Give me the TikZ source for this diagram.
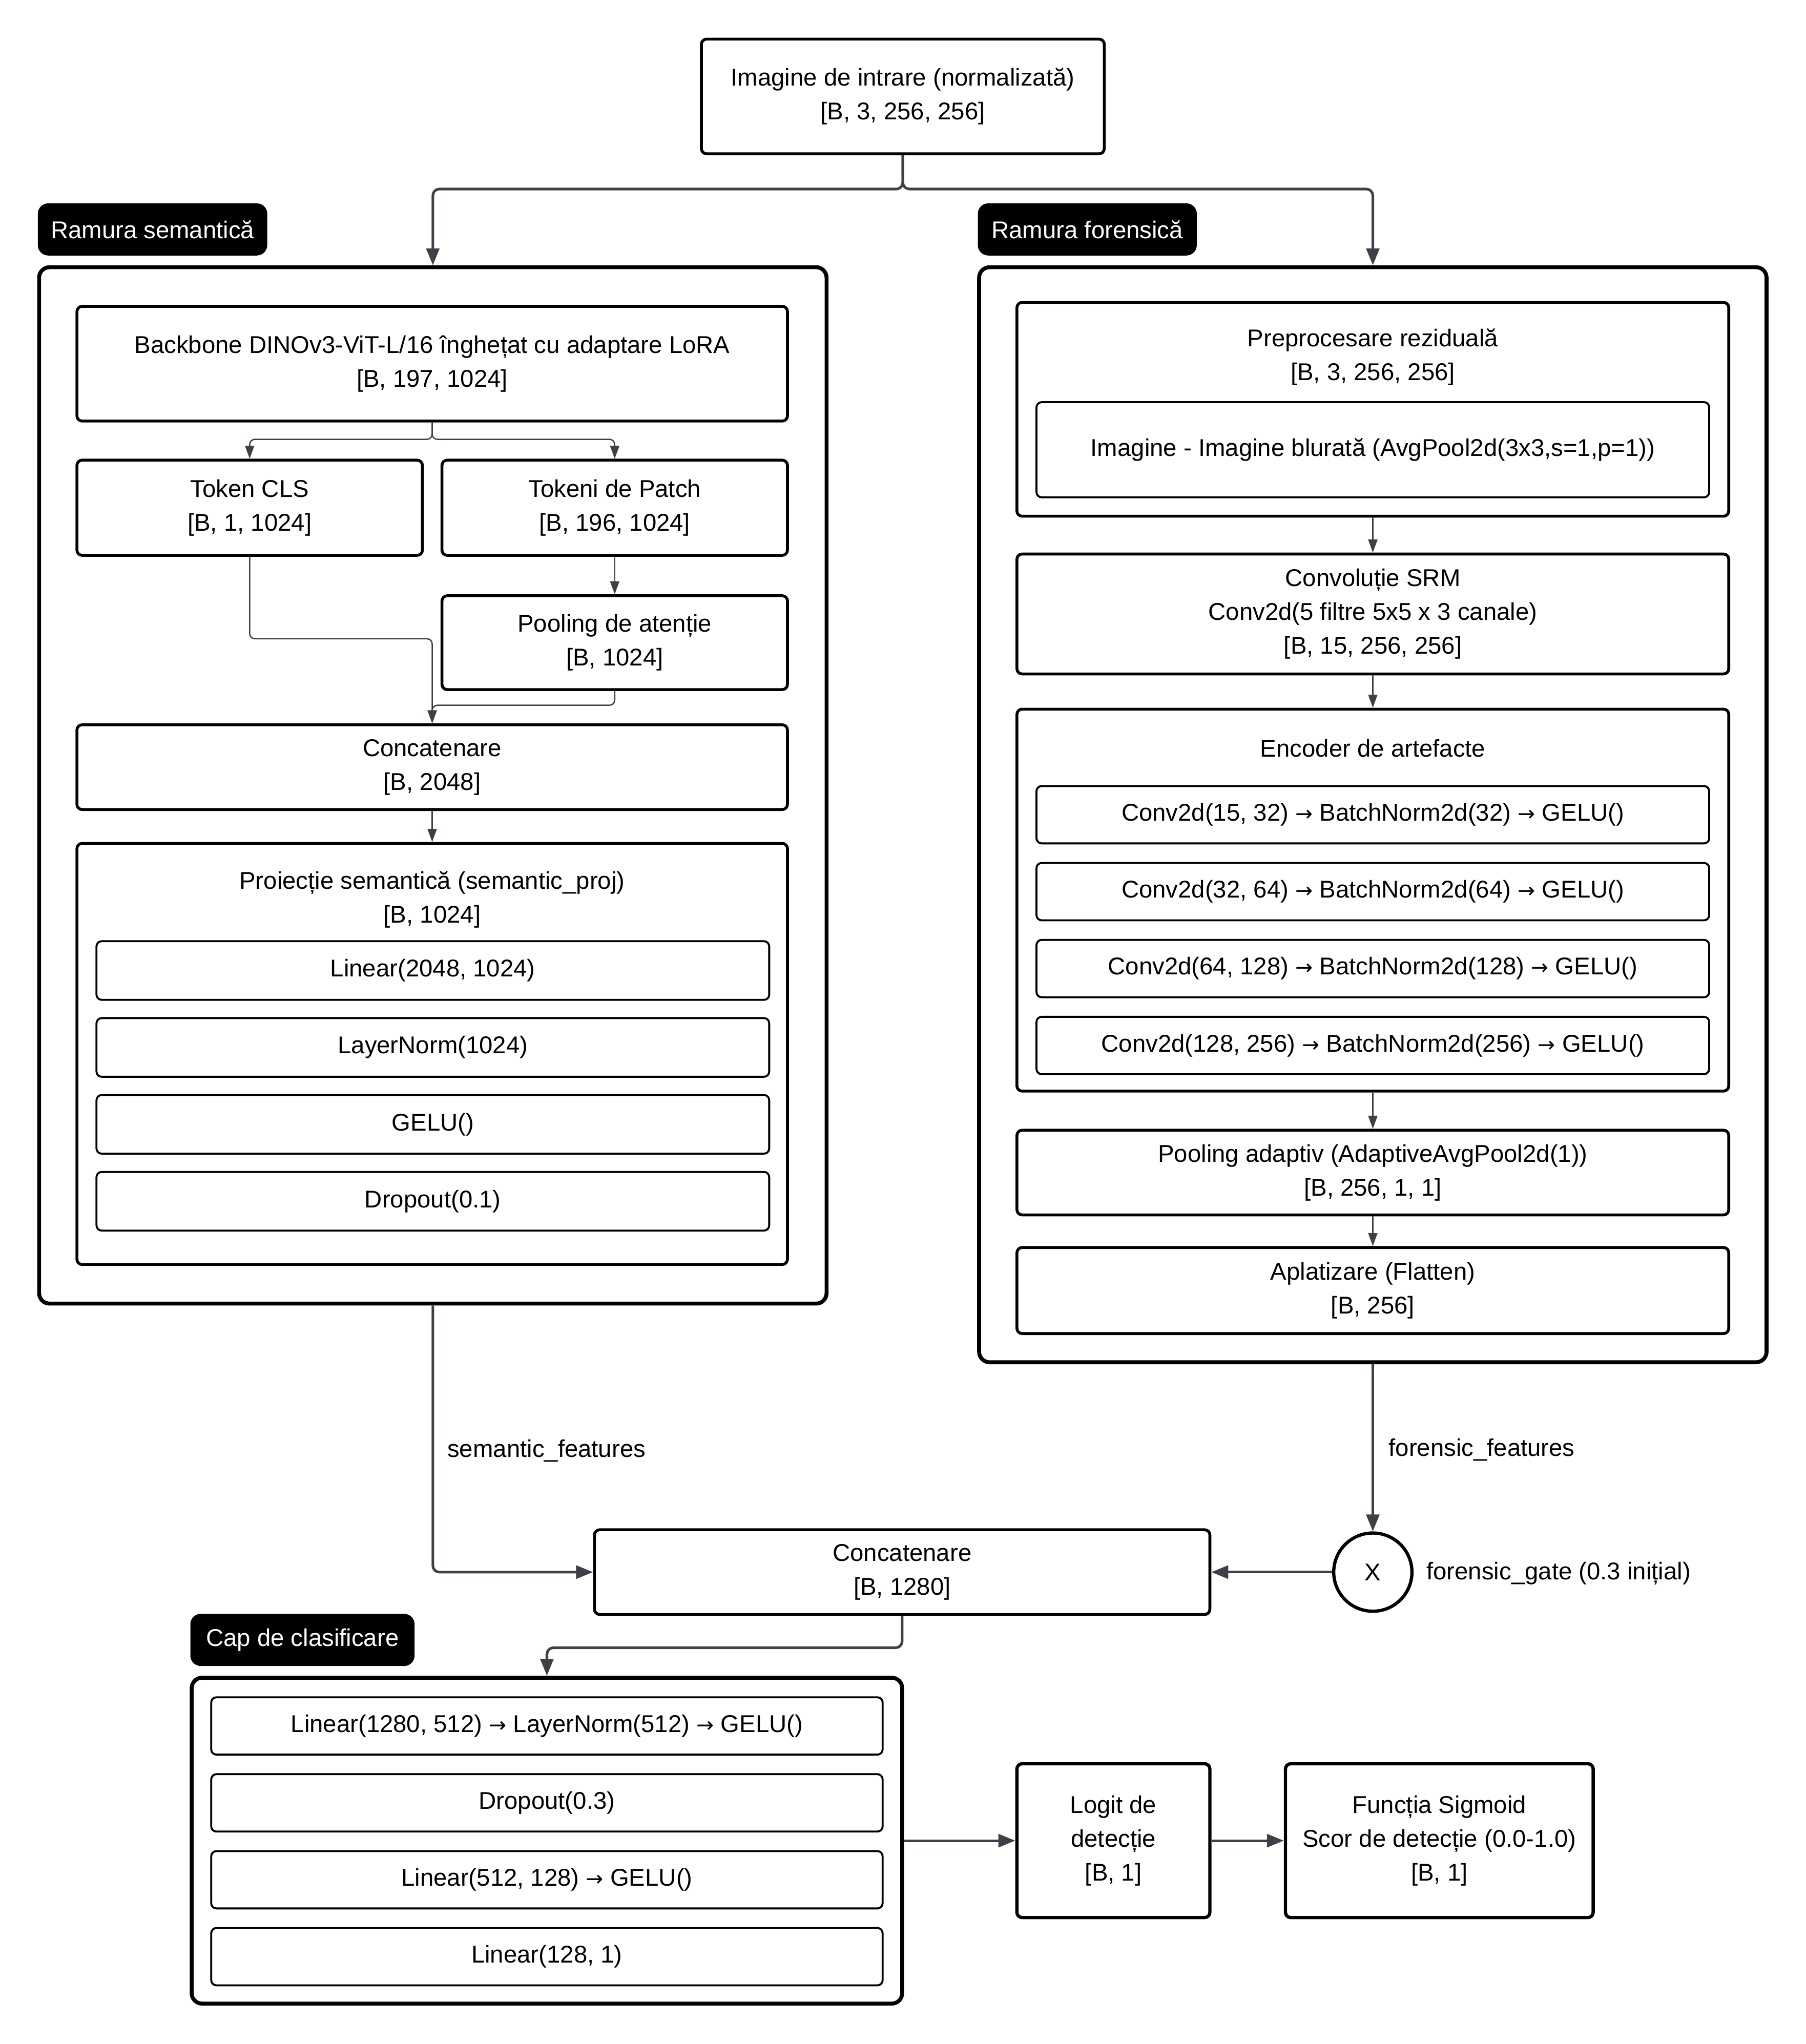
\documentclass[tikz,border=0pt]{standalone}
\usepackage{fontspec}
\setmainfont{Liberation Sans}
\newfontfamily\arrowfont{DejaVu Sans}
\newcommand{\rarr}{{\arrowfont\fontsize{16}{26}\selectfont →}}
\usetikzlibrary{arrows.meta,calc}
\definecolor{connc}{HTML}{3D4047}
\begin{document}
\begin{tikzpicture}[x=1pt,y=-1pt,
  font=\fontsize{18.6}{26}\selectfont,
  wh/.style 2 args={minimum width=#1pt, minimum height=#2pt},
  box/.style={draw=black, line width=2.2pt, rounded corners=4pt, align=center, inner sep=0pt, fill=white},
  container/.style={draw=black, line width=3pt, rounded corners=8pt, inner sep=0pt},
  inbox/.style={draw=black, line width=1.5pt, rounded corners=4pt, align=center, inner sep=0pt, fill=white},
  tagbox/.style={fill=black, text=white, rounded corners=8pt, inner sep=0pt},
  ttl/.style={align=center, inner sep=0pt},
  lbl/.style={anchor=west, inner sep=0pt},
  conn/.style={draw=connc, line width=2pt, -{Triangle[length=13pt,width=10pt]}, rounded corners=5pt},
  thinconn/.style={draw=connc, line width=1pt, -{Triangle[length=10pt,width=7pt]}, rounded corners=4pt}
]
\fill[white] (0,0) rectangle (1385,1568);
\useasboundingbox (0,0) rectangle (1385,1568);

% input
\node[box, wh={309}{88}] (in) at (692.5,74) {Imagine de intrare (normalizată)\\{}[B, 3, 256, 256]};

% ---------------- semantic branch
\node[tagbox, wh={176}{40}] (semtag) at (117,176) {Ramura semantică};
\node[container, wh={604}{795}] (semc) at (332,602.5) {};
\node[box, wh={545}{88}] (backbone) at (331.5,279) {Backbone DINOv3-ViT-L/16 înghețat cu adaptare LoRA\\{}[B, 197, 1024]};
\node[box, wh={265}{73}] (cls) at (191.5,389.5) {Token CLS\\{}[B, 1, 1024]};
\node[box, wh={265}{73}] (patch) at (471.5,389.5) {Tokeni de Patch\\{}[B, 196, 1024]};
\node[box, wh={265}{72}] (pool) at (471.5,493) {Pooling de atenție\\{}[B, 1024]};
\node[box, wh={545}{65}] (cat1) at (331.5,588.5) {Concatenare\\{}[B, 2048]};
\node[box, wh={545}{323}] (proj) at (331.5,808.5) {};
\node[ttl] (projt) at (331.5,690) {Proiecție semantică (semantic\_proj)\\{}[B, 1024]};
\node[inbox, wh={516}{45}] (p1) at (332,744.5) {Linear(2048, 1024)};
\node[inbox, wh={516}{45}] (p2) at (332,803.5) {LayerNorm(1024)};
\node[inbox, wh={516}{45}] (p3) at (332,862.5) {GELU()};
\node[inbox, wh={516}{45}] (p4) at (332,921.5) {Dropout(0.1)};

% ---------------- forensic branch
\node[tagbox, wh={168}{40}] (fortag) at (834,176) {Ramura forensică};
\node[container, wh={604}{840}] (forc) at (1053,625) {};
\node[box, wh={546}{164}] (prep) at (1053,314) {};
\node[ttl] (prept) at (1053,274) {Preprocesare reziduală\\{}[B, 3, 256, 256]};
\node[inbox, wh={516}{73}] (prepin) at (1053,345) {Imagine - Imagine blurată (AvgPool2d(3x3,s=1,p=1))};
\node[box, wh={546}{92}] (srm) at (1053,471) {Convoluție SRM\\Conv2d(5 filtre 5x5 x 3 canale)\\{}[B, 15, 256, 256]};
\node[box, wh={546}{293}] (enc) at (1053,690.5) {};
\node[ttl] (enct) at (1053,574) {Encoder de artefacte};
\node[inbox, wh={516}{44}] (e1) at (1053,625) {Conv2d(15, 32) \rarr{} BatchNorm2d(32) \rarr{} GELU()};
\node[inbox, wh={516}{44}] (e2) at (1053,684) {Conv2d(32, 64) \rarr{} BatchNorm2d(64) \rarr{} GELU()};
\node[inbox, wh={516}{44}] (e3) at (1053,743) {Conv2d(64, 128) \rarr{} BatchNorm2d(128) \rarr{} GELU()};
\node[inbox, wh={516}{44}] (e4) at (1053,802) {Conv2d(128, 256) \rarr{} BatchNorm2d(256) \rarr{} GELU()};
\node[box, wh={546}{65}] (apool) at (1053,899.5) {Pooling adaptiv (AdaptiveAvgPool2d(1))\\{}[B, 256, 1, 1]};
\node[box, wh={546}{66}] (flat) at (1053,990) {Aplatizare (Flatten)\\{}[B, 256]};

% ---------------- fusion
\node[circle, draw=black, line width=2.5pt, minimum size=60pt, inner sep=0pt] (gate) at (1053,1206) {X};
\node[box, wh={472}{65}] (cat2) at (692,1206) {Concatenare\\{}[B, 1280]};
\node[lbl] (semlbl) at (343,1113) {semantic\_features};
\node[lbl] (forlbl) at (1065,1112) {forensic\_features};
\node[lbl] (gatelbl) at (1094,1207) {forensic\_gate (0.3 inițial)};

% ---------------- classification head
\node[tagbox, wh={172}{40}] (captag) at (232,1258) {Cap de clasificare};
\node[container, wh={545}{250}] (cap) at (419.5,1412) {};
\node[inbox, wh={515}{44}] (c1) at (419.5,1324) {Linear(1280, 512) \rarr{} LayerNorm(512) \rarr{} GELU()};
\node[inbox, wh={515}{44}] (c2) at (419.5,1383) {Dropout(0.3)};
\node[inbox, wh={515}{44}] (c3) at (419.5,1442) {Linear(512, 128) \rarr{} GELU()};
\node[inbox, wh={515}{44}] (c4) at (419.5,1501) {Linear(128, 1)};
\node[box, line width=2.5pt, wh={148}{118}] (logit) at (854,1412) {Logit de\\detecție\\{}[B, 1]};
\node[box, line width=2.5pt, wh={236}{118}] (sig) at (1104,1412) {Funcția Sigmoid\\Scor de detecție (0.0-1.0)\\{}[B, 1]};

% ---------------- connectors
\coordinate (split) at (692.5,145);
\draw[conn] (in.south) -- (split) -| (semc.north);
\draw[conn] (in.south) -- (split) -| (forc.north);

\coordinate (bsplit) at (331.5,337);
\draw[thinconn] (backbone.south) -- (bsplit) -| (cls.north);
\draw[thinconn] (backbone.south) -- (bsplit) -| (patch.north);
\draw[thinconn] (patch.south) -- (pool.north);
\coordinate (clsj) at (331.5,490);
\coordinate (poolj) at (331.5,541);
\draw[thinconn] (cls.south) |- (clsj) -- (cat1.north);
\draw[thinconn] (pool.south) |- (poolj) -- (cat1.north);
\draw[thinconn] (cat1.south) -- (proj.north);

\draw[thinconn] (prep.south) -- (srm.north);
\draw[thinconn] (srm.south) -- (enc.north);
\draw[thinconn] (enc.south) -- (apool.north);
\draw[thinconn] (apool.south) -- (flat.north);

\draw[conn] (semc.south) |- (cat2.west);
\draw[conn] (forc.south) -- (gate.north);
\draw[conn] (gate.west) -- (cat2.east);

\coordinate (capj) at (692,1264);
\draw[conn] (cat2.south) -- (capj) -| (cap.north);
\draw[conn] (cap.east) -- (logit.west);
\draw[conn] (logit.east) -- (sig.west);
\end{tikzpicture}
\end{document}
